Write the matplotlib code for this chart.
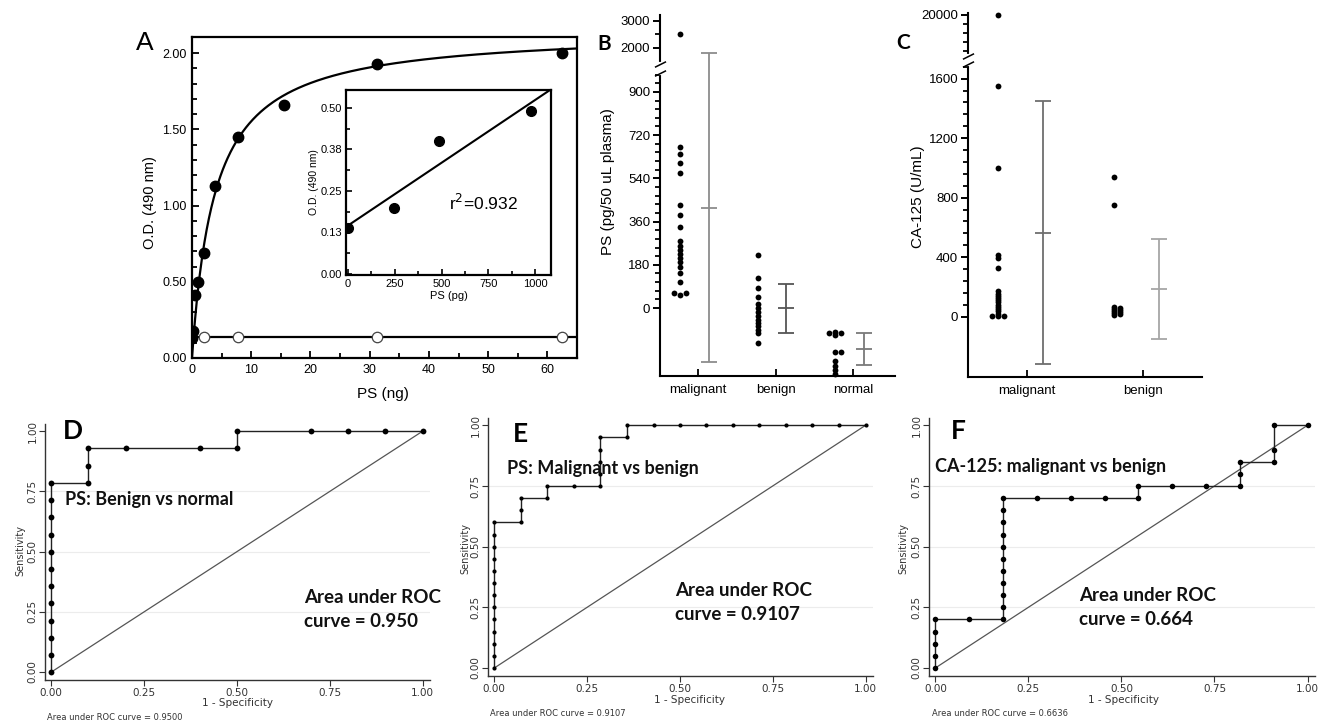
import numpy as np
import matplotlib
matplotlib.use('Agg')
import matplotlib.pyplot as plt
from matplotlib.ticker import FixedLocator

plt.rcParams['font.family'] = ['Liberation Sans', 'DejaVu Sans']

# ---- panel A: standard curve ----
std_ng = [0, 0.24, 0.49, 0.98, 1.95, 3.9, 7.8, 15.6, 31.25, 62.5]
std_od = [0.13, 0.18, 0.41, 0.50, 0.69, 1.13, 1.45, 1.66, 1.93, 2.00]
neg_ng = [1.95, 7.8, 31.25, 62.5]
neg_od = [0.135, 0.135, 0.135, 0.135]
fit_bmax, fit_kd = 2.15, 3.85          # hyperbolic fit
inset_pg = [0, 244, 488, 977]
inset_od = [0.14, 0.20, 0.40, 0.49]

# ---- panel B: PS per group ----
groups_b = ['malignant', 'benign', 'normal']
ps_malignant = [2500, 672, 640, 603, 564, 429, 388, 339, 281, 260, 240, 225, 207,
                190, 172, 147, 110, 61, 61, 55]
ps_benign = [221, 126, 82, 47, 15, 0, -16, -32, -48, -62, -76, -90, -105, -147]
ps_normal = [-100, -106, -106, -114, -182, -182, -222, -240, -258, -275]
ps_mean = [416, 0, -172]
ps_low = [-226, -105, -237]
ps_high = [1800, 99, -105]

# ---- panel C: CA-125 per group ----
groups_c = ['malignant', 'benign']
ca_malignant = [20000, 1550, 1000, 412, 392, 325, 170, 155, 140, 125, 110, 95, 80,
                65, 50, 35, 20, 5, 5, 5]
ca_benign = [940, 750, 68, 61, 54, 47, 40, 33, 26, 19, 12]
ca_mean = [565, 184]
ca_low = [-318, -152]
ca_high = [1452, 521]

# ---- ROC curves ----
d_fpr = [0, 0, 0, 0, 0, 0, 0, 0, 0, 0, 0, 0, 0.1, 0.1, 0.1, 0.2, 0.4, 0.5, 0.5, 0.7, 0.8, 0.9, 1.0]
d_tpr = [0, 0.071, 0.143, 0.214, 0.286, 0.357, 0.429, 0.5, 0.571, 0.643, 0.714, 0.786,
         0.786, 0.857, 0.929, 0.929, 0.929, 0.929, 1, 1, 1, 1, 1]
e_fpr = [0, 0, 0, 0, 0, 0, 0, 0, 0, 0, 0, 0, 0, 0.071, 0.071, 0.071, 0.143, 0.143, 0.214,
         0.286, 0.286, 0.286, 0.286, 0.286, 0.357, 0.357, 0.429, 0.5, 0.571, 0.643, 0.714,
         0.786, 0.857, 0.929, 1.0]
e_tpr = [0, 0.05, 0.1, 0.15, 0.2, 0.25, 0.3, 0.35, 0.4, 0.45, 0.5, 0.55, 0.6, 0.6, 0.65,
         0.7, 0.7, 0.75, 0.75, 0.75, 0.8, 0.85, 0.9, 0.95, 0.95, 1, 1, 1, 1, 1, 1, 1, 1, 1, 1]
f_fpr = [0, 0, 0, 0, 0, 0.091, 0.182, 0.182, 0.182, 0.182, 0.182, 0.182, 0.182, 0.182,
         0.182, 0.182, 0.182, 0.273, 0.364, 0.455, 0.545, 0.545, 0.636, 0.727, 0.818,
         0.818, 0.818, 0.909, 0.909, 0.909, 1.0]
f_tpr = [0, 0.05, 0.1, 0.15, 0.2, 0.2, 0.2, 0.25, 0.3, 0.35, 0.4, 0.45, 0.5, 0.55, 0.6,
         0.65, 0.7, 0.7, 0.7, 0.7, 0.7, 0.75, 0.75, 0.75, 0.75, 0.8, 0.85, 0.85, 0.9, 1.0, 1.0]

W, H = 1320, 727
fig = plt.figure(figsize=(W / 100, H / 100), dpi=100)


def box(l, t, r, b):
    return [l / W, 1 - b / H, (r - l) / W, (b - t) / H]


def ftext(x, y, s, **kw):
    fig.text(x / W, 1 - y / H, s, **kw)


def swarm(ax, xc, vals, d=2.0, step=6.0):
    # simple beeswarm in pixel space
    pts = ax.transData.transform(np.column_stack([np.full(len(vals), xc), vals]))
    order = np.argsort(pts[:, 1])
    placed = []
    xs = np.zeros(len(vals))
    for i in order:
        y = pts[i, 1]
        for k in [0, 1, -1, 2, -2, 3, -3]:
            xo = pts[i, 0] + k * step
            if all((xo - px) ** 2 + (y - py) ** 2 >= d ** 2 for px, py in placed):
                break
        placed.append((xo, y))
        xs[i] = xo
    back = ax.transData.inverted().transform(np.column_stack([xs, pts[:, 1]]))
    return back[:, 0], np.asarray(vals)


# ================= A =================
axA = fig.add_axes(box(192, 37, 577, 358))
xx = np.linspace(0, 65, 500)
axA.plot(xx, fit_bmax * xx / (fit_kd + xx), color='k', lw=1.6)
axA.axhline(np.mean(neg_od), color='k', lw=1.6)
axA.plot(std_ng, std_od, 'o', color='k', ms=7.5, zorder=3)
axA.plot(neg_ng, neg_od, 'o', mfc='white', mec='#444444', mew=0.9, ms=7.5, zorder=3)
axA.set_xlim(0, 65)
axA.set_ylim(0, 2.105)
axA.set_xticks(range(0, 61, 10))
axA.xaxis.set_minor_locator(FixedLocator(range(5, 65, 10)))
axA.set_yticks([0, 0.5, 1.0, 1.5, 2.0])
axA.set_yticklabels(['0.00', '0.50', '1.00', '1.50', '2.00'])
axA.yaxis.set_minor_locator(FixedLocator(np.arange(0.1, 2.1, 0.1)))
axA.tick_params(direction='in', length=5, width=1.3, labelsize=9, pad=4)
axA.tick_params(which='minor', direction='in', length=3.5, width=1.3)
for s in axA.spines.values():
    s.set_linewidth(1.6)
ftext(150, 203, 'O.D. (490 nm)', rotation=90, ha='center', va='center', fontsize=10.5)
ftext(383, 394, 'PS (ng)', ha='center', va='center', fontsize=11)
ftext(145, 43, 'A', ha='center', va='center', fontsize=19)

axI = fig.add_axes(box(346, 90, 551, 275))
slope, icpt = np.polyfit(inset_pg, inset_od, 1)
xi = np.array([0, 1100])
axI.plot(xi, icpt + slope * xi, color='k', lw=1.5)
axI.plot(inset_pg, inset_od, 'o', color='k', ms=7)
axI.set_xlim(-11, 1085)
axI.set_ylim(-0.003, 0.554)
axI.set_xticks([0, 250, 500, 750, 1000])
axI.xaxis.set_minor_locator(FixedLocator([125, 375, 625, 875]))
axI.set_yticks([0, 0.125, 0.25, 0.375, 0.5])
axI.set_yticklabels(['0.00', '0.13', '0.25', '0.38', '0.50'])
axI.yaxis.set_minor_locator(FixedLocator([0.0625, 0.1875, 0.3125, 0.4375]))
axI.tick_params(direction='in', length=4, width=1.2, labelsize=8, pad=3)
axI.tick_params(which='minor', direction='in', length=3, width=1.2)
for s in axI.spines.values():
    s.set_linewidth(1.6)
axI.set_xlabel('PS (pg)', fontsize=8, labelpad=1)
axI.set_ylabel('O.D. (490 nm)', fontsize=7.5, labelpad=1)
axI.text(540, 0.215, r'r$^2$=0.932', fontsize=12.5, ha='left', va='center')


# ---- broken axis helper ----
def piecewise(lo, hi, mlo, k):
    xs = np.array([-1e5, lo, hi, 1e6])
    ys = np.array([-1e5, lo, mlo, mlo + (1e6 - hi) * k])
    fwd = lambda v: np.interp(v, xs, ys)
    inv = lambda v: np.interp(v, ys, xs)
    return fwd, inv


def style_dot_axes(ax):
    for side in ['top', 'right']:
        ax.spines[side].set_visible(False)
    for side in ['left', 'bottom']:
        ax.spines[side].set_linewidth(1.5)
    ax.tick_params(axis='y', direction='out', length=5, width=1.4, labelsize=9.5, pad=2)
    ax.tick_params(axis='y', which='minor', direction='out', length=3.5, width=1.3)
    ax.tick_params(axis='x', direction='in', length=5, width=1.3, labelsize=9.5, pad=6)


def draw_break(ax, y1, y2):
    tr = ax.get_yaxis_transform()
    ax.plot([0, 0], [y1, y2], color='white', lw=3, transform=tr, clip_on=False, zorder=4)
    ax.plot([0, 0], [y1, y2], ls='none', marker=[(-1, -0.5), (1, 0.5)], ms=8, mew=1.1,
            color='k', transform=tr, clip_on=False, zorder=5)


# ================= B =================
axB = fig.add_axes(box(660, 15, 895, 376))
fB, iB = piecewise(980, 1400, 1015.5, 0.1125)
axB.set_yscale('function', functions=(fB, iB))
axB.set_ylim(-283, 3220)
axB.set_xlim(-0.49, 2.54)
style_dot_axes(axB)
axB.set_yticks([0, 180, 360, 540, 720, 900, 2000, 3000])
axB.set_yticklabels(['0', '180', '360', '540', '720', '900', '2000', '3000'])
minB = [v for v in range(36, 980, 36) if v % 180] + [2500]
axB.yaxis.set_minor_locator(FixedLocator(minB))
axB.set_xticks(range(len(groups_b)))
axB.set_xticklabels(groups_b)
bar_cols_b = ['#8c8c8c', '#555555', '#7a7a7a']
for i, vals in enumerate([ps_malignant, ps_benign, ps_normal]):
    sx, sy = swarm(axB, i - 0.23, vals)
    axB.plot(sx, sy, 'o', color='k', ms=4.2, mew=0, zorder=3, clip_on=False)
    axB.errorbar(i + 0.14, ps_mean[i],
                 yerr=[[ps_mean[i] - ps_low[i]], [ps_high[i] - ps_mean[i]]],
                 fmt='_', ms=11.5, mew=1.3, capsize=5.8, capthick=1.3, lw=1.3,
                 color=bar_cols_b[i], ecolor=bar_cols_b[i])
draw_break(axB, 985, 1395)
ftext(608, 182, 'PS (pg/50 uL plasma)', rotation=90, ha='center', va='center', fontsize=11)
ftext(604, 44, 'B', ha='center', va='center', fontsize=15, fontweight='bold',
      family=['Lato', 'DejaVu Sans'])

# ================= C =================
axC = fig.add_axes(box(968, 13, 1202, 377))
fC, iC = piecewise(1700, 17700, 1751.7, 0.121)
axC.set_yscale('function', functions=(fC, iC))
axC.set_ylim(-406, 20094)
axC.set_xlim(-0.51, 1.51)
style_dot_axes(axC)
axC.set_yticks([0, 400, 800, 1200, 1600, 20000])
axC.set_yticklabels(['0', '400', '800', '1200', '1600', '20000'])
minC = [v for v in range(80, 1700, 80) if v % 400] + [18000, 18500, 19000, 19500]
axC.yaxis.set_minor_locator(FixedLocator(minC))
axC.set_xticks(range(len(groups_c)))
axC.set_xticklabels(groups_c)
bar_cols_c = ['#6e6e6e', '#a6a6a6']
for i, vals in enumerate([ca_malignant, ca_benign]):
    sx, sy = swarm(axC, i - 0.25, vals)
    axC.plot(sx, sy, 'o', color='k', ms=4.2, mew=0, zorder=3, clip_on=False)
    axC.errorbar(i + 0.14, ca_mean[i],
                 yerr=[[ca_mean[i] - ca_low[i]], [ca_high[i] - ca_mean[i]]],
                 fmt='_', ms=11.5, mew=1.3, capsize=5.8, capthick=1.3, lw=1.3,
                 color=bar_cols_c[i], ecolor=bar_cols_c[i])
draw_break(axC, 1705, 17650)
ftext(918, 197, 'CA-125 (U/mL)', rotation=90, ha='center', va='center', fontsize=11)
ftext(903, 43, 'C', ha='center', va='center', fontsize=15, fontweight='bold',
      family=['Lato', 'DejaVu Sans'])

# ================= ROC panels =================
roc_specs = [
    dict(pos=(45, 424, 430, 680), fpr=d_fpr, tpr=d_tpr, letter='D', lxy=(0.03, 1.0),
         title='PS: Benign vs normal', txy=(0.038, 0.715),
         auc1='Area under ROC', auc2='curve = 0.950', axy=(0.68, 0.31, 0.21),
         small='Area under ROC curve = 0.9500', sxy=(47, 717),
         sens=(20, 550), spec=(238, 703), ms=4.2),
    dict(pos=(488, 418, 873, 676), fpr=e_fpr, tpr=e_tpr, letter='E', lxy=(0.05, 0.965),
         title='PS: Malignant vs benign', txy=(0.034, 0.82),
         auc1='Area under ROC', auc2='curve = 0.9107', axy=(0.486, 0.32, 0.22),
         small='Area under ROC curve = 0.9107', sxy=(490, 714),
         sens=(465, 548), spec=(690, 700), ms=3.0),
    dict(pos=(929, 418, 1315, 676), fpr=f_fpr, tpr=f_tpr, letter='F', lxy=(0.043, 0.976),
         title='CA-125: malignant vs benign', txy=(0.0, 0.83),
         auc1='Area under ROC', auc2='curve = 0.664', axy=(0.387, 0.30, 0.20),
         small='Area under ROC curve = 0.6636', sxy=(932, 714),
         sens=(903, 548), spec=(1123, 700), ms=4.0),
]
calibri = ['Lato', 'DejaVu Sans']
for sp in roc_specs:
    l, t, r, b = sp['pos']
    ax = fig.add_axes(box(l, t, r, b))
    ax.set_xlim(-0.017, 1.02)
    ax.set_ylim(-0.033, 1.03)
    for gy in [0.25, 0.5, 0.75]:
        ax.axhline(gy, color='#ececec', lw=0.8, zorder=0)
    ax.plot([0, 1], [0, 1], color='#555555', lw=0.9)
    ax.plot(sp['fpr'], sp['tpr'], '-o', color='#222222', lw=1.0, ms=sp['ms'], mew=0,
            mfc='k')
    for side in ['top', 'right']:
        ax.spines[side].set_visible(False)
    for side in ['left', 'bottom']:
        ax.spines[side].set_linewidth(1.0)
        ax.spines[side].set_color('#333333')
    ax.set_xticks([0, 0.25, 0.5, 0.75, 1.0])
    ax.set_xticklabels(['0.00', '0.25', '0.50', '0.75', '1.00'])
    ax.set_yticks([0, 0.25, 0.5, 0.75, 1.0])
    ax.set_yticklabels(['0.00', '0.25', '0.50', '0.75', '1.00'], rotation=90, va='center')
    ax.tick_params(direction='out', length=4, width=0.8, color='#333333', labelsize=7.5,
                   labelcolor='#333333', pad=1.5)
    for tl in ax.get_yticklabels():
        tl.set_family(['DejaVu Sans'])
    for tl in ax.get_xticklabels():
        tl.set_family(['DejaVu Sans'])
    ax.text(sp['lxy'][0], sp['lxy'][1], sp['letter'], fontsize=19, fontweight='bold',
            family=calibri, ha='left', va='center')
    ax.text(sp['txy'][0], sp['txy'][1], sp['title'], fontsize=13, fontweight='bold',
            family=calibri, ha='left', va='center', color='#111111')
    ax.text(sp['axy'][0], sp['axy'][1], sp['auc1'], fontsize=13.5, fontweight='bold',
            family=calibri, ha='left', va='center', color='#111111')
    ax.text(sp['axy'][0], sp['axy'][2], sp['auc2'], fontsize=13.5, fontweight='bold',
            family=calibri, ha='left', va='center', color='#111111')
    ftext(sp['sxy'][0], sp['sxy'][1], sp['small'], fontsize=6, ha='left', va='center',
          color='#333333', family=['DejaVu Sans'])
    ftext(sp['sens'][0], sp['sens'][1], 'Sensitivity', rotation=90, fontsize=7,
          ha='center', va='center', color='#333333', family=['DejaVu Sans'])
    ftext(sp['spec'][0], sp['spec'][1], '1 - Specificity', fontsize=7.5,
          ha='center', va='center', color='#333333', family=['DejaVu Sans'])

fig.savefig('out.png', dpi=100)
